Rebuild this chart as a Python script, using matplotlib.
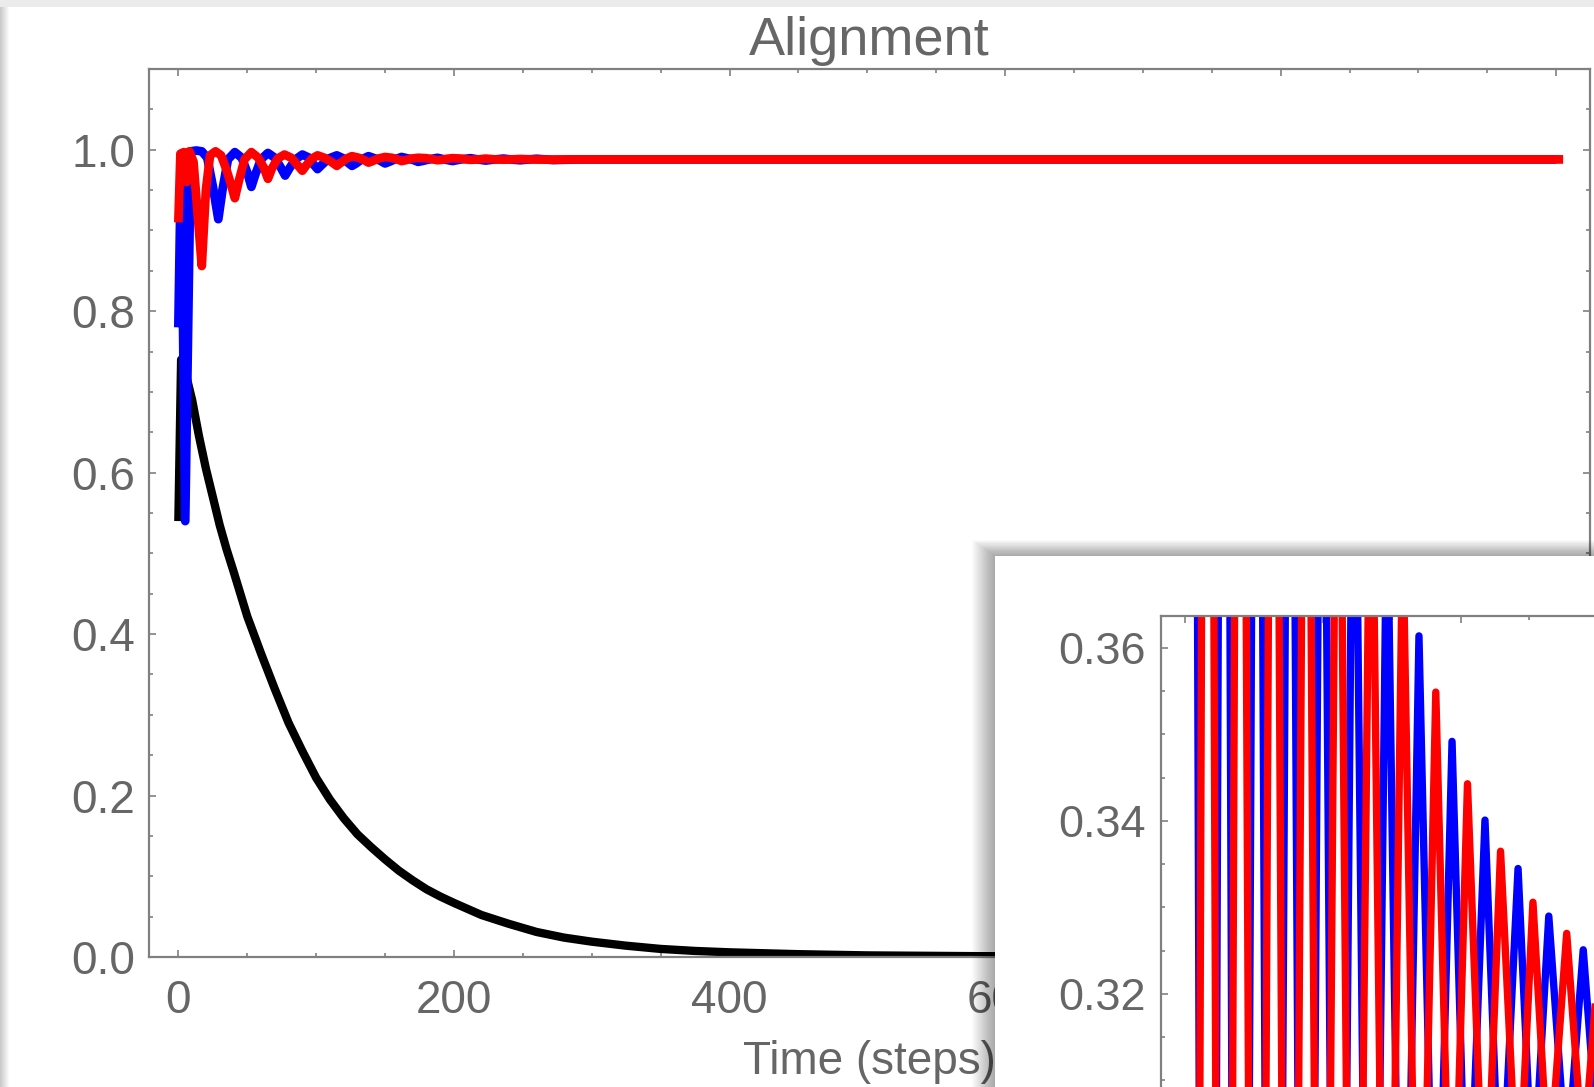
import matplotlib
matplotlib.use("Agg")
import matplotlib.pyplot as plt
from matplotlib.patches import Rectangle
from matplotlib.ticker import MultipleLocator

plt.rcParams['font.family'] = ['Liberation Sans', 'DejaVu Sans']

# main plot data
t_black = [0, 2, 5, 10, 15, 20, 25, 30, 35, 40, 45, 50, 60, 70, 80, 90, 100,
           110, 120, 130, 140, 150, 160, 170, 180, 190, 200, 220, 240, 260,
           280, 300, 325, 350, 375, 400, 450, 500, 600, 700, 1000]
black = [0.54, 0.74, 0.725, 0.69, 0.645, 0.605, 0.57, 0.535, 0.505, 0.478,
         0.45, 0.422, 0.376, 0.332, 0.29, 0.255, 0.222, 0.195, 0.172, 0.152,
         0.136, 0.121, 0.107, 0.095, 0.084, 0.075, 0.067, 0.052, 0.041, 0.031,
         0.024, 0.019, 0.014, 0.010, 0.0075, 0.0058, 0.0035, 0.002, 0.0008,
         0.0003, 0.0]

t_blue = [0, 2, 5, 9, 13, 17, 21, 25, 29, 32, 36, 41, 46, 50, 53, 56, 60, 65,
          70, 74, 77.5, 81, 85, 90, 95, 98, 101, 104, 109, 115, 120, 123, 126,
          129, 133, 138, 143, 147, 150, 153, 157, 162, 167, 171, 174, 177, 182,
          188, 193, 199, 205, 212, 218, 223, 230, 236, 242, 248, 260, 272, 290,
          320, 1000]
blue = [0.78, 0.995, 0.54, 0.998, 0.999, 0.998, 0.99, 0.955, 0.914, 0.95,
        0.988, 0.997, 0.99, 0.972, 0.954, 0.970, 0.988, 0.996, 0.990, 0.979,
        0.968, 0.978, 0.988, 0.994, 0.990, 0.982, 0.976, 0.981, 0.989, 0.993,
        0.989, 0.984, 0.980, 0.983, 0.988, 0.992, 0.989, 0.986, 0.983, 0.985,
        0.988, 0.991, 0.989, 0.987, 0.985, 0.986, 0.988, 0.990, 0.988, 0.986,
        0.988, 0.9895, 0.9878, 0.9866, 0.988, 0.989, 0.9878, 0.987, 0.9888,
        0.9872, 0.988, 0.988, 0.988]

t_red = [0, 1.5, 4, 6, 8, 11, 14, 17, 20, 23, 27, 31, 35, 38, 41, 44, 48, 53,
         58, 62, 65, 68, 72, 77, 82, 86, 90, 93, 97, 101, 106, 111, 115, 118,
         122, 126, 131, 135, 138, 141, 145, 150, 155, 159, 162, 165, 169, 174,
         180, 185, 188, 191, 195, 199, 205, 209, 212, 218, 223, 230, 236, 242,
         248, 260, 300, 1005]
red = [0.91, 0.995, 0.997, 0.96, 0.998, 0.985, 0.92, 0.856, 0.95, 0.993,
       0.998, 0.993, 0.975, 0.958, 0.940, 0.962, 0.988, 0.997, 0.990, 0.978,
       0.964, 0.977, 0.989, 0.994, 0.990, 0.982, 0.974, 0.981, 0.989, 0.993,
       0.990, 0.985, 0.980, 0.984, 0.989, 0.992, 0.990, 0.987, 0.984, 0.986,
       0.989, 0.991, 0.990, 0.988, 0.986, 0.987, 0.989, 0.990, 0.9895, 0.988,
       0.987, 0.9875, 0.9888, 0.9895, 0.989, 0.988, 0.9875, 0.988, 0.989,
       0.988, 0.9877, 0.988, 0.9885, 0.9878, 0.988, 0.988]

# inset data (peaks and troughs of the zoomed oscillations)
t_blue_in = [0, 4.5, 16.3, 28.3, 39.9, 52.2, 64.2, 76.2, 87.8, 99.4, 111,
             122.6, 135, 146.6, 158, 169.8, 182, 193.8, 205, 217.7, 229,
             241.7, 252.5, 264, 277, 289, 300, 312]
blue_in = [0.55, 0.58, 0.03, 0.54, 0.07, 0.50, 0.11, 0.465, 0.15, 0.435, 0.19,
           0.405, 0.22, 0.38, 0.255, 0.3614, 0.275, 0.3492, 0.287, 0.3401,
           0.293, 0.3345, 0.297, 0.3290, 0.300, 0.3251, 0.302, 0.322]
t_red_in = [0, 4.5, 16.3, 28.3, 39.9, 52.2, 64.2, 76.2, 87.8, 99.4, 111,
            122.6, 135, 146.6, 158, 169.8, 182, 193.8, 205, 217.7, 229,
            241.7, 252.5, 264, 277, 289, 300, 312]
red_in = [0.10, 0.02, 0.56, 0.06, 0.52, 0.10, 0.48, 0.14, 0.45, 0.18, 0.42,
          0.21, 0.395, 0.24, 0.374, 0.265, 0.3549, 0.281, 0.3443, 0.29,
          0.3365, 0.295, 0.3306, 0.299, 0.3270, 0.301, 0.3235, 0.303]

W, H = 1594, 1087
grey = '#666666'
frame = '#808080'


def fx(x):
    return x / W


def fy(y):
    return 1 - y / H


fig = plt.figure(figsize=(W / 100, H / 100), dpi=100, facecolor='white')

# window chrome: grey strip on top and shadow on the left
fig.add_artist(Rectangle((0, fy(7)), 1, 7 / H, transform=fig.transFigure,
                         facecolor='#ebebeb', edgecolor='none', zorder=-2))
for i in range(10):
    fig.add_artist(Rectangle((0, 0), fx(9 - i), fy(7), transform=fig.transFigure,
                             facecolor='black', alpha=0.025, edgecolor='none',
                             zorder=-1))

# main plot
ax = fig.add_axes([fx(149), fy(957), fx(1590 - 149), (957 - 69) / H])
ax.set_zorder(1)
ax.plot(t_black, black, color='black', lw=6, solid_capstyle='butt',
        solid_joinstyle='round')
ax.plot(t_blue, blue, color='#0000ff', lw=6.3, solid_capstyle='butt',
        solid_joinstyle='round')
ax.plot(t_red, red, color='#ff0000', lw=6.3, solid_capstyle='butt',
        solid_joinstyle='round')
ax.set_xlim(-21.3, 1024.5)
ax.set_ylim(0, 1.1)
ax.xaxis.set_major_locator(MultipleLocator(200))
ax.xaxis.set_minor_locator(MultipleLocator(50))
ax.yaxis.set_major_locator(MultipleLocator(0.2))
ax.yaxis.set_minor_locator(MultipleLocator(0.05))
ax.yaxis.set_major_formatter(plt.FuncFormatter(lambda v, p: f'{v:.1f}'))
ax.tick_params(which='both', direction='in', top=True, right=True,
               color=frame, width=1.2, labelcolor=grey, labelsize=33)
ax.tick_params(axis='x', which='major', length=5, pad=16)
ax.tick_params(axis='y', which='major', length=5, pad=10)
ax.tick_params(which='minor', length=3)
for s in ax.spines.values():
    s.set_color(frame)
    s.set_linewidth(1.6)
ax.set_title('Alignment', fontsize=39, color=grey, pad=10)
ax.set_xlabel('Time (steps)', fontsize=33, color=grey, labelpad=12)

# inset window with drop shadow
for i in range(24):
    fig.add_artist(Rectangle((fx(995 - i), 0), 1, fy(556 - 0.7 * i),
                             transform=fig.transFigure, facecolor='black',
                             alpha=0.016, edgecolor='none', zorder=2))
fig.add_artist(Rectangle((fx(995), 0), 1, fy(556), transform=fig.transFigure,
                         facecolor='white', edgecolor='none', zorder=3))

ins = fig.add_axes([fx(1161), fy(1300), fx(1800 - 1161), (1300 - 616) / H])
ins.set_zorder(4)
ins.plot(t_blue_in, blue_in, color='#0000ff', lw=5.3, solid_joinstyle='round')
ins.plot(t_red_in, red_in, color='#ff0000', lw=5.3, solid_joinstyle='round')
ins.set_xlim(-17.4, 446.3)
ins.set_ylim(0.2846, 0.3637)
ins.xaxis.set_major_locator(MultipleLocator(100))
ins.xaxis.set_minor_locator(MultipleLocator(50))
ins.yaxis.set_major_locator(MultipleLocator(0.02))
ins.yaxis.set_minor_locator(MultipleLocator(0.005))
ins.yaxis.set_major_formatter(plt.FuncFormatter(lambda v, p: f'{v:.2f}'))
ins.tick_params(which='both', direction='in', top=True, right=True,
                labelbottom=False, color=frame, width=1.2, labelcolor=grey,
                labelsize=32.5)
ins.tick_params(which='major', length=5, pad=11)
ins.tick_params(which='minor', length=3)
for s in ins.spines.values():
    s.set_color(frame)
    s.set_linewidth(1.6)

fig.savefig('out.png', dpi=100)
